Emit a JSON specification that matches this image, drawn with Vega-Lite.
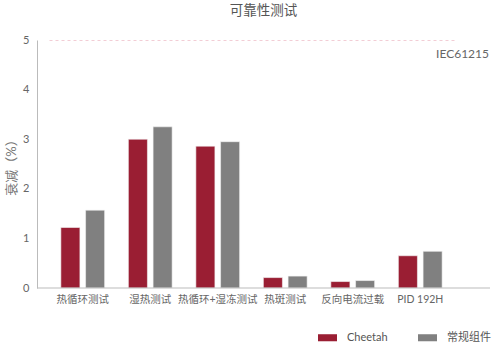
{
  "$schema": "https://vega.github.io/schema/vega-lite/v6.json",
  "autosize": "none",
  "width": 453,
  "height": 248,
  "padding": {"left": 37, "top": 40, "right": 4, "bottom": 56},
  "background": "white",
  "config": {
    "font": "Lato, Noto Sans CJK SC",
    "view": {"stroke": null}
  },
  "title": {
    "text": "可靠性测试",
    "fontSize": 13.5,
    "fontWeight": "normal",
    "color": "#555555",
    "anchor": "middle",
    "frame": "group",
    "offset": 17
  },
  "layer": [
    {
      "data": {
        "values": [
          {"test": "热循环测试", "type": "Cheetah", "value": 1.22},
          {"test": "热循环测试", "type": "常规组件", "value": 1.57},
          {"test": "湿热测试", "type": "Cheetah", "value": 3.0},
          {"test": "湿热测试", "type": "常规组件", "value": 3.25},
          {"test": "热循环+湿冻测试", "type": "Cheetah", "value": 2.86},
          {"test": "热循环+湿冻测试", "type": "常规组件", "value": 2.95},
          {"test": "热斑测试", "type": "Cheetah", "value": 0.21},
          {"test": "热斑测试", "type": "常规组件", "value": 0.24},
          {"test": "反向电流过载", "type": "Cheetah", "value": 0.13},
          {"test": "反向电流过载", "type": "常规组件", "value": 0.15},
          {"test": "PID 192H", "type": "Cheetah", "value": 0.65},
          {"test": "PID 192H", "type": "常规组件", "value": 0.74}
        ]
      },
      "mark": {"type": "bar", "stroke": "#f4f4f4", "strokeWidth": 0.6},
      "encoding": {
        "x": {
          "field": "test",
          "type": "nominal",
          "sort": null,
          "scale": {"range": [12, 417], "paddingInner": 0, "paddingOuter": 0},
          "axis": {
            "title": null,
            "domain": false,
            "ticks": false,
            "labelAngle": 0,
            "labelFontSize": 10.5,
            "labelColor": "#666666",
            "labelPadding": 6
          }
        },
        "xOffset": {
          "field": "type",
          "type": "nominal",
          "sort": ["Cheetah", "常规组件"],
          "scale": {"paddingInner": 0.23, "paddingOuter": 0.48}
        },
        "y": {
          "field": "value",
          "type": "quantitative",
          "scale": {"domain": [0, 5], "nice": false},
          "axis": {
            "title": "衰减（%）",
            "titleFontSize": 13,
            "titleFontWeight": "normal",
            "titleColor": "#777777",
            "titlePadding": 4,
            "values": [0, 1, 2, 3, 4, 5],
            "labelOverlap": false,
            "labelFlush": false,
            "ticks": false,
            "labelFontSize": 11,
            "labelColor": "#666666",
            "labelPadding": 8,
            "domainColor": "#bbbbbb",
            "grid": true,
            "gridDash": [3, 3],
            "gridColor": {"condition": {"test": "datum.value === 5", "value": "#f2cdd5"}, "value": "transparent"}
          }
        },
        "color": {
          "field": "type",
          "type": "nominal",
          "sort": ["Cheetah", "常规组件"],
          "scale": {"range": ["#9a1e33", "#808080"]},
          "legend": {
            "title": null,
            "orient": "none",
            "direction": "horizontal",
            "legendX": 281,
            "legendY": 288,
            "symbolType": "M-1,-0.37H1V0.37H-1Z",
            "symbolSize": 361,
            "symbolStrokeWidth": 0,
            "labelFontSize": 11,
            "labelColor": "#555555",
            "labelOffset": 10,
            "columnPadding": 30
          }
        }
      }
    },
    {
      "data": {"values": [{"base": 0}]},
      "mark": {"type": "rule", "color": "#bbbbbb", "strokeWidth": 1},
      "encoding": {"y": {"field": "base", "type": "quantitative"}}
    },
    {
      "data": {"values": [{"label": "IEC61215", "pos": 4.72}]},
      "mark": {"type": "text", "align": "right", "baseline": "middle", "fontSize": 12, "fontWeight": "normal", "color": "#666666", "dx": -1},
      "encoding": {
        "x": {"value": "width"},
        "y": {"field": "pos", "type": "quantitative"},
        "text": {"field": "label", "type": "nominal"}
      }
    }
  ]
}
